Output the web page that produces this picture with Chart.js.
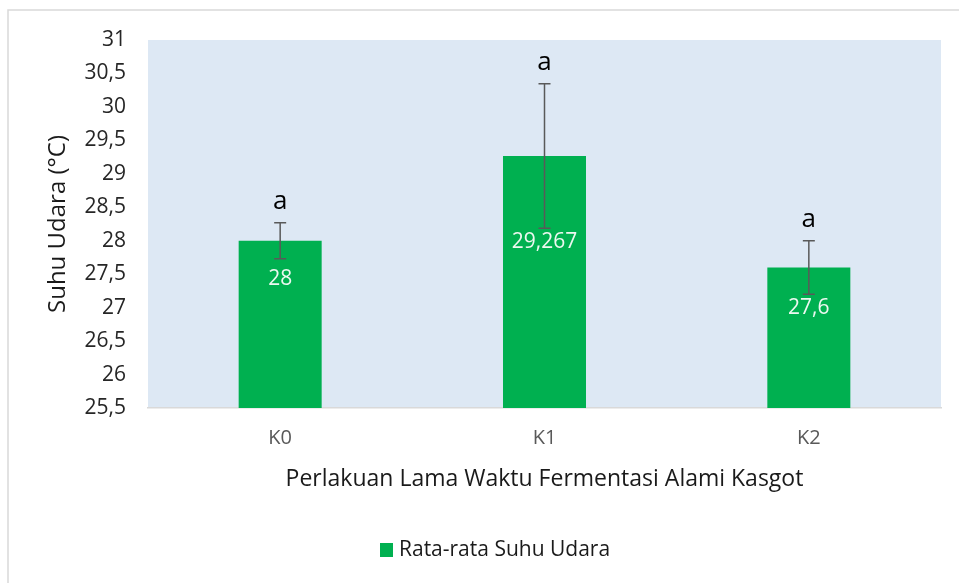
<!DOCTYPE html>
<html>
<head>
<meta charset="utf-8">
<title>Suhu Udara</title>
<script src="https://cdn.jsdelivr.net/npm/chart.js@4.4.1/dist/chart.umd.min.js"></script>
<style>
    html, body { margin: 0; padding: 0; background: #ffffff; }
    canvas { display: block; }
</style>
</head>
<body>
<canvas id="suhuChart" width="959" height="583"></canvas>
<script>
// Chart data
const categories = ['K0', 'K1', 'K2'];
const meanTemp = [28, 29.267, 27.6];
const errTemp = [0.27, 1.08, 0.4];
const notation = ['a', 'a', 'a'];
const yMin = 25.5;
const yMax = 31;
const yStep = 0.5;

const FONT = '"Open Sans", "Noto Sans", sans-serif';
const barColor = '#00b050';

// Format number with comma decimal
function formatNum(v) {
    return String(v).replace('.', ',');
}

// Frame + plot background
const backgroundPlugin = {
    id: 'background',
    beforeDraw(chart) {
        const { ctx, chartArea } = chart;
        ctx.save();
        ctx.strokeStyle = '#d9d9d9';
        ctx.lineWidth = 1.5;
        ctx.beginPath();
        ctx.moveTo(959, 10);
        ctx.lineTo(8, 10);
        ctx.lineTo(8, 583);
        ctx.stroke();
        ctx.fillStyle = '#dde8f4';
        ctx.fillRect(chartArea.left, chartArea.top, chartArea.right - chartArea.left, chartArea.bottom - chartArea.top);
        ctx.restore();
    }
};

// Error bars, letters, value labels, titles, legend
const annotationPlugin = {
    id: 'annotations',
    afterDatasetsDraw(chart) {
        const { ctx, chartArea } = chart;
        const xScale = chart.scales.x;
        const yScale = chart.scales.y;
        ctx.save();

        meanTemp.forEach((v, i) => {
            const x = xScale.getPixelForValue(i);
            const yTop = yScale.getPixelForValue(v + errTemp[i]);
            const yBot = yScale.getPixelForValue(v - errTemp[i]);
            const yBar = yScale.getPixelForValue(v);

            ctx.strokeStyle = '#595959';
            ctx.lineWidth = 1.5;
            ctx.beginPath();
            ctx.moveTo(x, yTop);
            ctx.lineTo(x, yBot);
            ctx.moveTo(x - 6, yTop);
            ctx.lineTo(x + 6, yTop);
            ctx.moveTo(x - 6, yBot);
            ctx.lineTo(x + 6, yBot);
            ctx.stroke();

            ctx.fillStyle = '#000000';
            ctx.font = '26px ' + FONT;
            ctx.textAlign = 'center';
            ctx.textBaseline = 'alphabetic';
            ctx.fillText(notation[i], x, yTop - 14);

            ctx.fillStyle = '#ecf8f0';
            ctx.font = '21px ' + FONT;
            ctx.textBaseline = 'middle';
            ctx.fillText(formatNum(v), x, Math.max(yBar + 38, yBot + 14));
        });

        // Axis titles
        ctx.fillStyle = '#1a1a1a';
        ctx.font = '23px ' + FONT;
        ctx.textAlign = 'center';
        ctx.textBaseline = 'middle';
        ctx.fillText('Perlakuan Lama Waktu Fermentasi Alami Kasgot', (chartArea.left + chartArea.right) / 2, 479);

        ctx.save();
        ctx.font = '24px ' + FONT;
        ctx.translate(58, (chartArea.top + chartArea.bottom) / 2);
        ctx.rotate(-Math.PI / 2);
        ctx.fillText('Suhu Udara (°C)', 0, 0);
        ctx.restore();

        // Legend
        ctx.fillStyle = barColor;
        ctx.fillRect(380, 543, 13, 14);
        ctx.fillStyle = '#1a1a1a';
        ctx.font = '21px ' + FONT;
        ctx.textAlign = 'left';
        ctx.textBaseline = 'middle';
        ctx.fillText('Rata-rata Suhu Udara', 399, 550);

        ctx.restore();
    }
};

new Chart(document.getElementById('suhuChart'), {
    type: 'bar',
    data: {
        labels: categories,
        datasets: [{
            label: 'Rata-rata Suhu Udara',
            data: meanTemp,
            backgroundColor: barColor,
            borderWidth: 0,
            categoryPercentage: 1,
            barPercentage: 0.314,
            base: yMin
        }]
    },
    options: {
        responsive: false,
        animation: false,
        layout: {
            padding: { top: 40, right: 18, left: 0, bottom: 0 }
        },
        plugins: {
            legend: { display: false },
            tooltip: { enabled: false }
        },
        scales: {
            x: {
                grid: { display: false, drawTicks: false },
                border: { display: true, color: '#d9d9d9', width: 1.5 },
                ticks: {
                    color: '#595959',
                    padding: 18,
                    font: { family: FONT, size: 20 }
                },
                afterFit(scale) {
                    scale.height = 175;
                    scale.paddingLeft = 0;
                    scale.paddingRight = 0;
                }
            },
            y: {
                min: yMin,
                max: yMax,
                grid: { display: false, drawTicks: false },
                border: { display: false },
                ticks: {
                    stepSize: yStep,
                    color: '#262626',
                    padding: 22,
                    font: { family: FONT, size: 21 },
                    callback: value => formatNum(value)
                },
                afterFit(scale) {
                    scale.width = 148;
                    scale.paddingTop = 0;
                    scale.paddingBottom = 0;
                }
            }
        }
    },
    plugins: [backgroundPlugin, annotationPlugin]
});
</script>
</body>
</html>
